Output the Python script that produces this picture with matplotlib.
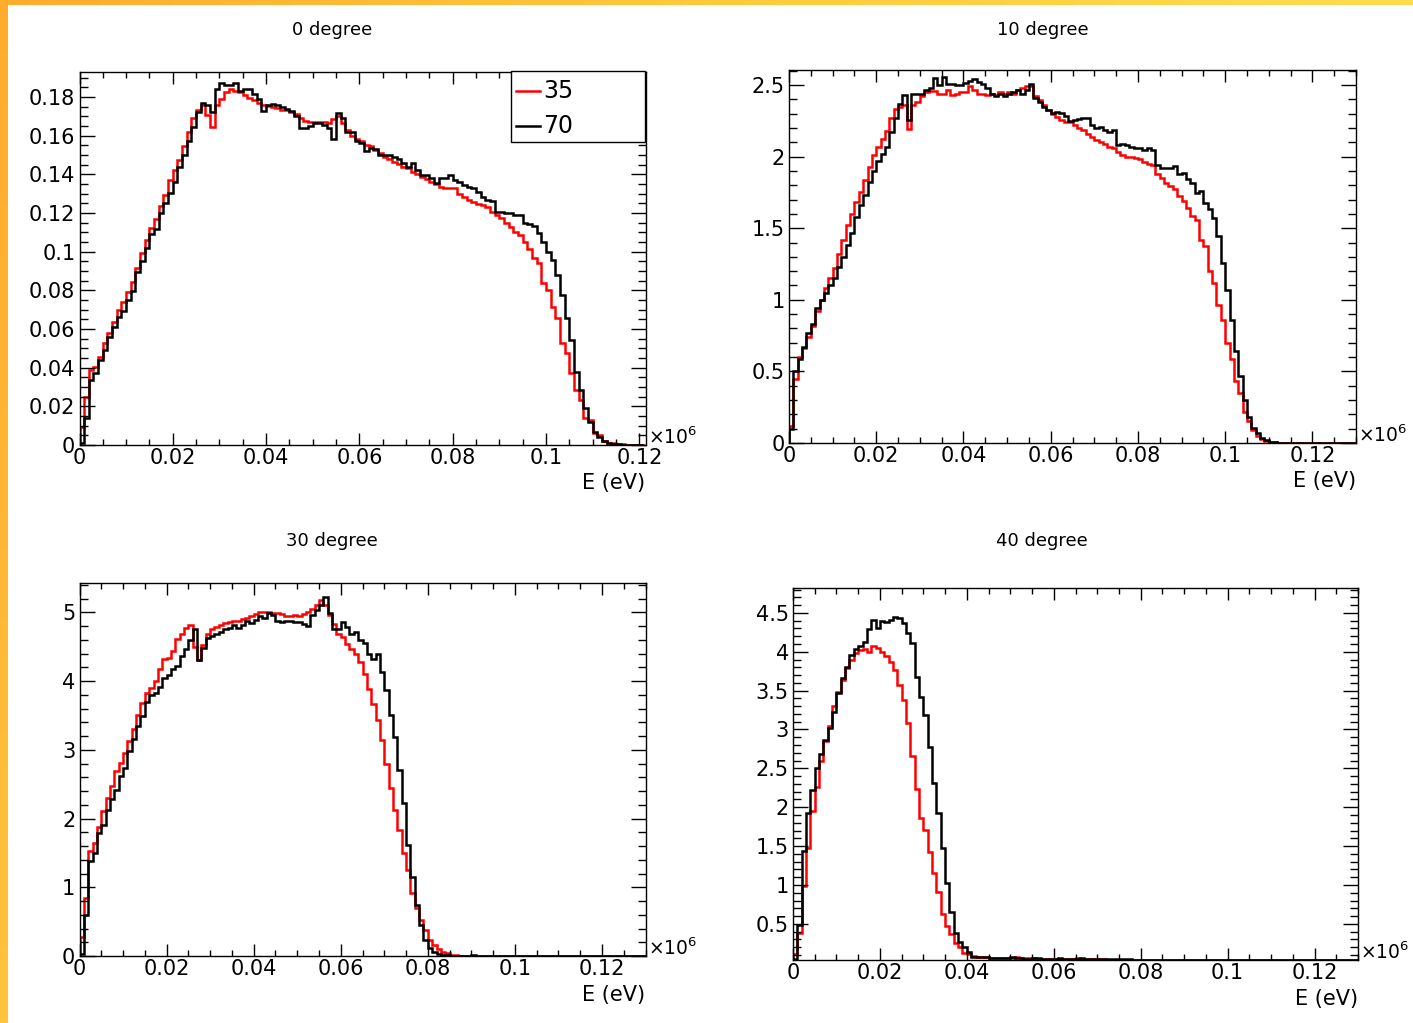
import matplotlib
matplotlib.use('Agg')
import matplotlib.pyplot as plt
import numpy as np
from matplotlib.ticker import MultipleLocator, FuncFormatter
from matplotlib.patches import Rectangle
from matplotlib.lines import Line2D
from matplotlib.colors import LinearSegmentedColormap

plt.rcParams['font.family'] = ['DejaVu Sans']

# energy histograms, bin width 1 keV (axis in units of 1e6 eV)
bin_width = 0.001
legend_labels = ['35', '70']
titles = ['0 degree', '10 degree', '30 degree', '40 degree']

deg0_35 = [0.0095, 0.025, 0.0388, 0.0405, 0.0457, 0.0526, 0.0578, 0.0638, 0.0698, 0.0741,
           0.0793, 0.0841, 0.0917, 0.0991, 0.106, 0.112, 0.1167, 0.1236, 0.1293, 0.137,
           0.1422, 0.1474, 0.1547, 0.162, 0.169, 0.1733, 0.1759, 0.1707, 0.1647, 0.1759,
           0.1788, 0.1828, 0.184, 0.183, 0.1825, 0.181, 0.1795, 0.1785, 0.177, 0.176,
           0.1755, 0.175, 0.1745, 0.1735, 0.173, 0.172, 0.171, 0.169, 0.1675, 0.1672,
           0.167, 0.167, 0.1668, 0.1665, 0.1686, 0.170, 0.1665, 0.163, 0.1596, 0.158,
           0.157, 0.155, 0.1545, 0.1526, 0.151, 0.149, 0.148, 0.1466, 0.1455, 0.144,
           0.143, 0.1414, 0.140, 0.1388, 0.1375, 0.136, 0.135, 0.1335, 0.1327, 0.1327,
           0.1327, 0.130, 0.128, 0.1266, 0.1255, 0.1245, 0.124, 0.1233, 0.1207, 0.119,
           0.1173, 0.1147, 0.1129, 0.1103, 0.1086, 0.1052, 0.1012, 0.0966, 0.094, 0.0837,
           0.0802, 0.0716, 0.0655, 0.0526, 0.0474, 0.0371, 0.0285, 0.0233, 0.0138, 0.0129,
           0.006, 0.0052, 0.0022, 0.0012, 0.0009, 0.0004, 0.0003, 0.0002, 0.0001, 0.0,
           0.0]
deg0_70 = [0.001, 0.0138, 0.0336, 0.037, 0.044, 0.049, 0.056, 0.061, 0.066, 0.0695,
           0.075, 0.0797, 0.0897, 0.0952, 0.1017, 0.109, 0.1116, 0.1198, 0.125, 0.1305,
           0.136, 0.1436, 0.150, 0.157, 0.1647, 0.1724, 0.1767, 0.1759, 0.1724, 0.184,
           0.1874, 0.1862, 0.1862, 0.1874, 0.1833, 0.184, 0.184, 0.1815, 0.179, 0.1726,
           0.176, 0.1762, 0.1758, 0.175, 0.174, 0.1726, 0.170, 0.164, 0.164, 0.165,
           0.1665, 0.1665, 0.1655, 0.164, 0.158, 0.1717, 0.169, 0.162, 0.162, 0.157,
           0.156, 0.1518, 0.1535, 0.153, 0.150, 0.150, 0.150, 0.149, 0.148, 0.146,
           0.144, 0.1457, 0.142, 0.1396, 0.1396, 0.138, 0.1353, 0.138, 0.138, 0.1396,
           0.137, 0.136, 0.1344, 0.1335, 0.1327, 0.131, 0.1284, 0.1266, 0.126, 0.1207,
           0.1203, 0.1198, 0.120, 0.119, 0.119, 0.1147, 0.1143, 0.113, 0.1095, 0.1052,
           0.100, 0.0957, 0.088, 0.0776, 0.0655, 0.0543, 0.038, 0.0285, 0.019, 0.0121,
           0.0069, 0.0043, 0.0022, 0.0012, 0.0006, 0.0003, 0.0002, 0.0001, 0.0, 0.0,
           0.0]

deg10_35 = [0.12, 0.45, 0.6, 0.66, 0.74, 0.82, 0.92, 1.0, 1.08, 1.15,
            1.22, 1.32, 1.42, 1.52, 1.6, 1.68, 1.75, 1.84, 1.93, 2.01,
            2.07, 2.12, 2.18, 2.27, 2.33, 2.35, 2.36, 2.19, 2.36, 2.38,
            2.42, 2.45, 2.46, 2.46, 2.44, 2.44, 2.465, 2.43, 2.44, 2.453,
            2.453, 2.49, 2.465, 2.44, 2.435, 2.43, 2.44, 2.43, 2.453, 2.44,
            2.453, 2.44, 2.465, 2.477, 2.49, 2.49, 2.42, 2.395, 2.36, 2.325,
            2.3, 2.278, 2.255, 2.243, 2.24, 2.22, 2.197, 2.185, 2.16, 2.14,
            2.115, 2.10, 2.085, 2.07, 2.057, 2.03, 2.01, 2.0, 1.995, 1.99,
            1.98, 1.965, 1.947, 1.94, 1.877, 1.853, 1.818, 1.795, 1.776, 1.725,
            1.69, 1.643, 1.585, 1.557, 1.42, 1.375, 1.2, 1.118, 0.966, 0.861,
            0.698, 0.586, 0.43, 0.352, 0.219, 0.156, 0.091, 0.049, 0.026, 0.016,
            0.008, 0.004, 0.001, 0.0, 0.0, 0.0, 0.0, 0.0, 0.0, 0.0,
            0.0, 0.0, 0.0, 0.0, 0.0, 0.0, 0.0, 0.0, 0.0, 0.0]
deg10_70 = [0.1, 0.5, 0.59, 0.67, 0.77, 0.83, 0.94, 1.0, 1.05, 1.1,
            1.15, 1.23, 1.3, 1.38, 1.47, 1.58, 1.66, 1.73, 1.82, 1.9,
            1.97, 2.02, 2.07, 2.17, 2.27, 2.37, 2.43, 2.255, 2.44, 2.44,
            2.44, 2.465, 2.48, 2.547, 2.5, 2.553, 2.51, 2.507, 2.5, 2.5,
            2.516, 2.53, 2.54, 2.523, 2.51, 2.477, 2.44, 2.423, 2.44, 2.423,
            2.44, 2.453, 2.465, 2.44, 2.465, 2.507, 2.407, 2.383, 2.348, 2.325,
            2.306, 2.313, 2.306, 2.285, 2.25, 2.255, 2.26, 2.267, 2.267, 2.22,
            2.2, 2.21, 2.185, 2.17, 2.185, 2.08, 2.087, 2.08, 2.07, 2.057,
            2.057, 2.045, 2.057, 2.045, 1.94, 1.92, 1.92, 1.92, 1.935, 1.877,
            1.884, 1.842, 1.818, 1.748, 1.76, 1.678, 1.632, 1.573, 1.445, 1.258,
            1.071, 0.861, 0.64, 0.465, 0.301, 0.184, 0.103, 0.068, 0.033, 0.021,
            0.01, 0.005, 0.002, 0.0, 0.0, 0.0, 0.0, 0.0, 0.0, 0.0,
            0.0, 0.0, 0.0, 0.0, 0.0, 0.0, 0.0, 0.0, 0.0, 0.0]

deg30_35 = [0.27, 0.85, 1.53, 1.65, 1.87, 2.11, 2.3, 2.47, 2.69, 2.81,
            2.96, 3.13, 3.3, 3.5, 3.68, 3.82, 3.9, 4.0, 4.17, 4.32,
            4.34, 4.43, 4.61, 4.68, 4.77, 4.82, 4.5, 4.31, 4.53, 4.68,
            4.75, 4.78, 4.82, 4.84, 4.86, 4.88, 4.87, 4.9, 4.92, 4.94,
            4.97, 5.0, 5.01, 5.0, 4.99, 4.99, 4.98, 4.95, 4.94, 4.96,
            4.95, 4.98, 5.005, 5.054, 5.1, 5.174, 5.1, 4.957, 4.835, 4.69,
            4.64, 4.544, 4.471, 4.4, 4.277, 4.108, 3.89, 3.67, 3.43, 3.14,
            2.8, 2.437, 2.122, 1.832, 1.492, 1.25, 0.911, 0.693, 0.524, 0.378,
            0.233, 0.16, 0.097, 0.063, 0.039, 0.015, 0.01, 0.006, 0.004, 0.003,
            0.002, 0.001, 0.001, 0.0, 0.0, 0.0, 0.0, 0.0, 0.0, 0.0,
            0.0, 0.0, 0.0, 0.0, 0.0, 0.0, 0.0, 0.0, 0.0, 0.0,
            0.0, 0.0, 0.0, 0.0, 0.0, 0.0, 0.0, 0.0, 0.0, 0.0,
            0.0, 0.0, 0.0, 0.0, 0.0, 0.0, 0.0, 0.0, 0.0, 0.0]
deg30_70 = [0.03, 0.6, 1.38, 1.5, 1.79, 1.91, 2.12, 2.28, 2.42, 2.62,
            2.74, 2.98, 3.15, 3.34, 3.49, 3.69, 3.8, 3.83, 3.92, 4.05,
            4.09, 4.17, 4.22, 4.36, 4.46, 4.6, 4.75, 4.3, 4.48, 4.63,
            4.65, 4.68, 4.72, 4.75, 4.77, 4.82, 4.77, 4.82, 4.87, 4.85,
            4.89, 4.94, 4.92, 4.99, 4.96, 4.87, 4.86, 4.87, 4.87, 4.86,
            4.86, 4.835, 4.797, 4.957, 5.03, 5.1, 5.223, 4.99, 4.76, 4.76,
            4.86, 4.787, 4.69, 4.714, 4.593, 4.554, 4.4, 4.327, 4.39, 4.133,
            3.866, 3.503, 3.188, 2.704, 2.23, 1.614, 1.154, 0.742, 0.451, 0.233,
            0.112, 0.063, 0.03, 0.015, 0.01, 0.006, 0.004, 0.003, 0.002, 0.002,
            0.012, 0.002, 0.0, 0.0, 0.0, 0.0, 0.0, 0.0, 0.0, 0.0,
            0.0, 0.0, 0.0, 0.0, 0.0, 0.0, 0.0, 0.0, 0.0, 0.0,
            0.0, 0.0, 0.0, 0.0, 0.0, 0.0, 0.0, 0.0, 0.0, 0.0,
            0.0, 0.0, 0.0, 0.0, 0.0, 0.0, 0.0, 0.0, 0.0, 0.0]

deg40_35 = [0.11, 0.38, 0.99, 1.47, 1.95, 2.26, 2.6, 2.85, 3.05, 3.3,
            3.48, 3.64, 3.79, 3.9, 3.98, 4.02, 4.03, 4.0, 4.07, 4.05,
            4.0, 3.94, 3.87, 3.77, 3.57, 3.38, 3.08, 2.66, 2.24, 1.86,
            1.71, 1.42, 1.15, 0.91, 0.63, 0.477, 0.37, 0.26, 0.2, 0.13,
            0.11, 0.09, 0.077, 0.075, 0.07, 0.065, 0.062, 0.062, 0.06, 0.06,
            0.062, 0.072, 0.058, 0.055, 0.055, 0.055, 0.052, 0.05, 0.05, 0.052,
            0.048, 0.05, 0.047, 0.047, 0.048, 0.055, 0.046, 0.045, 0.044, 0.043,
            0.042, 0.042, 0.041, 0.041, 0.041, 0.04, 0.03, 0.03, 0.03, 0.03,
            0.03, 0.03, 0.03, 0.03, 0.03, 0.03, 0.03, 0.03, 0.03, 0.03,
            0.03, 0.03, 0.03, 0.03, 0.03, 0.03, 0.03, 0.03, 0.03, 0.03,
            0.03, 0.03, 0.03, 0.03, 0.03, 0.03, 0.03, 0.03, 0.03, 0.03,
            0.03, 0.03, 0.03, 0.03, 0.03, 0.03, 0.03, 0.03, 0.03, 0.03,
            0.03, 0.03, 0.03, 0.03, 0.03, 0.03, 0.03, 0.03, 0.03, 0.03]
deg40_70 = [0.05, 0.48, 1.44, 1.92, 2.22, 2.5, 2.68, 2.86, 3.015, 3.226,
            3.467, 3.66, 3.81, 3.96, 4.034, 4.077, 4.12, 4.292, 4.413, 4.305,
            4.391, 4.378, 4.404, 4.447, 4.434, 4.37, 4.241, 4.112, 3.673, 3.424,
            3.187, 2.778, 2.314, 1.931, 1.48, 1.024, 0.65, 0.379, 0.262, 0.198,
            0.133, 0.077, 0.07, 0.07, 0.068, 0.066, 0.064, 0.064, 0.064, 0.062,
            0.07, 0.06, 0.055, 0.05, 0.05, 0.06, 0.065, 0.05, 0.048, 0.05,
            0.048, 0.055, 0.047, 0.046, 0.048, 0.046, 0.055, 0.045, 0.048, 0.044,
            0.044, 0.05, 0.043, 0.043, 0.042, 0.046, 0.042, 0.044, 0.03, 0.03,
            0.03, 0.03, 0.03, 0.03, 0.03, 0.03, 0.03, 0.03, 0.03, 0.03,
            0.03, 0.03, 0.03, 0.03, 0.03, 0.03, 0.03, 0.03, 0.03, 0.03,
            0.03, 0.03, 0.03, 0.03, 0.03, 0.03, 0.03, 0.03, 0.03, 0.03,
            0.03, 0.03, 0.03, 0.03, 0.03, 0.03, 0.03, 0.03, 0.03, 0.03,
            0.03, 0.03, 0.03, 0.03, 0.03, 0.03, 0.03, 0.03, 0.03, 0.03]

W, H = 1413, 1023
fig = plt.figure(figsize=(W / 100, H / 100), dpi=100)
fig.patch.set_facecolor('white')


def fx(px):
    return px / W


def fy(py):
    return 1 - py / H


# orange/yellow frame of the slide
cmap_top = LinearSegmentedColormap.from_list('top', ['#ffac2c', '#ffc93e', '#ffdc4c'])
cmap_left = LinearSegmentedColormap.from_list('left', ['#ffac2c', '#ffb634', '#ffc43c'])
bar_top = fig.add_axes([0, fy(5), 1, 5 / H])
bar_top.imshow(np.linspace(0, 1, 256)[None, :], aspect='auto', cmap=cmap_top)
bar_top.axis('off')
bar_left = fig.add_axes([0, 0, 8 / W, 1])
bar_left.imshow(np.linspace(0, 1, 256)[:, None], aspect='auto', cmap=cmap_left)
bar_left.axis('off')

# (title, red, black, xmax, ylim, ymajor, yminor, frame l t r b, title x y, E label y)
panels = [
    (titles[0], deg0_35, deg0_70, 0.1213, (0, 0.1929), 0.02, 0.005, (79.5, 72, 645.5, 445), (332, 30), 483),
    (titles[1], deg10_35, deg10_70, 0.13, (0, 2.605), 0.5, 0.1, (789, 70, 1356, 443), (1043, 30), 481),
    (titles[2], deg30_35, deg30_70, 0.13, (0, 5.426), 1, 0.2, (79.5, 583, 645.5, 956), (332, 541), 995),
    (titles[3], deg40_35, deg40_70, 0.13, (0.035, 4.82), 0.5, 0.1, (793, 588, 1358, 960), (1042, 541), 999),
]

fmt = FuncFormatter(lambda v, p: f'{round(v, 6):g}')

for title, red, black, xmax, ylim, ymaj, ymin_, (l, t, r, b), (tx, ty), ey in panels:
    ax = fig.add_axes([fx(l), fy(b), (r - l) / W, (b - t) / H])
    edges_r = np.arange(len(red) + 1) * bin_width
    edges_b = np.arange(len(black) + 1) * bin_width
    ax.stairs(red, edges_r, baseline=0, color='#ff0000', lw=1.8)
    ax.stairs(black, edges_b, baseline=0, color='black', lw=1.8)
    ax.set_xlim(0, xmax)
    ax.set_ylim(*ylim)
    ax.xaxis.set_major_locator(MultipleLocator(0.02))
    ax.xaxis.set_minor_locator(MultipleLocator(0.005))
    ax.yaxis.set_major_locator(MultipleLocator(ymaj))
    ax.yaxis.set_minor_locator(MultipleLocator(ymin_))
    ax.xaxis.set_major_formatter(fmt)
    ax.yaxis.set_major_formatter(fmt)
    ax.tick_params(which='both', direction='in', top=True, right=True, width=1,
                   labelsize=15, color='black')
    ax.tick_params(axis='x', which='major', length=8.5, pad=2)
    ax.tick_params(axis='x', which='minor', length=4.3)
    ax.tick_params(axis='y', which='major', length=10.8, pad=3)
    ax.tick_params(axis='y', which='minor', length=5.6)
    for s in ax.spines.values():
        s.set_linewidth(1)
    fig.text(fx(r + 2), fy(b - 1), '×10$^{6}$', ha='left', va='baseline', fontsize=13.5)
    fig.text(fx(r), fy(ey), 'E (eV)', ha='right', va='center', fontsize=15)
    fig.text(fx(tx), fy(ty), title, ha='center', va='center', fontsize=13)

# legend box of the first pad
fig.add_artist(Rectangle((fx(511), fy(142)), 134 / W, 71 / H, transform=fig.transFigure,
                         facecolor='white', edgecolor='black', lw=1, zorder=10))
for lab, col, yy in [(legend_labels[0], '#ff0000', 91), (legend_labels[1], 'black', 126)]:
    fig.add_artist(Line2D([fx(516), fx(540)], [fy(yy), fy(yy)], transform=fig.transFigure,
                          color=col, lw=1.8, zorder=11))
    fig.text(fx(543), fy(yy), lab, ha='left', va='center', fontsize=17, zorder=12)

fig.savefig('out.png', dpi=100)
